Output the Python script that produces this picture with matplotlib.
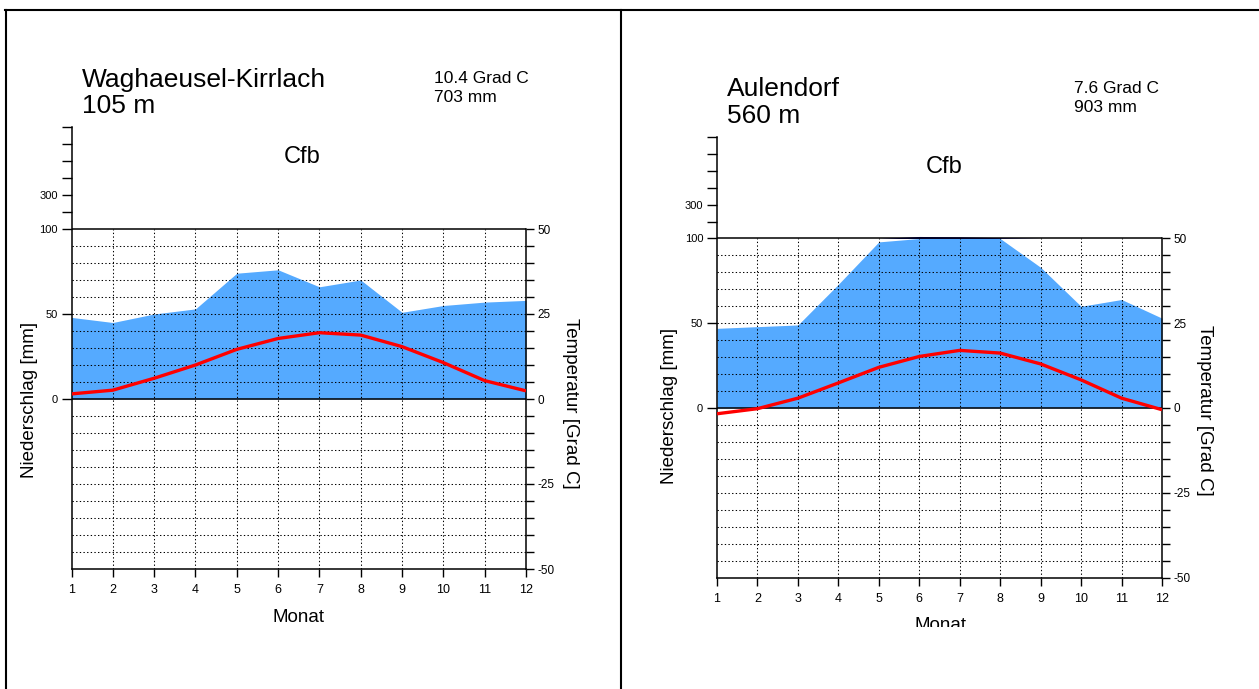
import numpy as np
import matplotlib
matplotlib.use("Agg")
import matplotlib.pyplot as plt
from matplotlib.lines import Line2D
from matplotlib.patches import Rectangle

plt.rcParams['font.family'] = ['Liberation Sans', 'DejaVu Sans']

W, H = 1259, 689

months = np.arange(1, 13)
month_labels = [str(m) for m in months]

# Station 1: Waghaeusel-Kirrlach
st1_name = "Waghaeusel-Kirrlach"
st1_height = "105 m"
st1_temp_text = "10.4 Grad C"
st1_prec_text = "703 mm"
st1_climate = "Cfb"
st1_prec = [48, 45, 50, 53, 74, 76, 66, 70, 51, 55, 57, 58]
st1_temp = [1.5, 2.6, 6.1, 10.0, 14.6, 17.8, 19.5, 18.8, 15.4, 10.7, 5.4, 2.4]

# Station 2: Aulendorf
st2_name = "Aulendorf"
st2_height = "560 m"
st2_temp_text = "7.6 Grad C"
st2_prec_text = "903 mm"
st2_climate = "Cfb"
st2_prec = [47, 48, 49, 73, 98, 112, 110, 105, 83, 60, 64, 53]
st2_temp = [-1.7, -0.2, 2.9, 7.4, 12.0, 15.2, 17.0, 16.2, 13.0, 8.3, 2.9, -0.5]

BLUE = '#55AAFF'
DARKBLUE = '#0000AA'
RED = '#FF0000'
DOT = (0, (1.3, 2.2))

fig = plt.figure(figsize=(W / 100, H / 100), dpi=100)


def fx(x):
    return x / W


def fy(y):
    return 1 - y / H


def panel(x_left, x_right, y100, ym100, prec, temp):
    per_mm = (ym100 - y100) / 200.0
    y_top = y100 - 60 * per_mm
    ax = fig.add_axes([fx(x_left), fy(ym100), (x_right - x_left) / W, (ym100 - y_top) / H])
    ax.set_xlim(1, 12)
    ax.set_ylim(-100, 160)
    ax.patch.set_visible(False)
    prec = np.asarray(prec, dtype=float)
    # precipitation fill
    ax.fill_between(months, 0, np.minimum(prec, 100), color=BLUE, lw=0, zorder=1)
    over = 100 + (np.maximum(prec, 100) - 100) * 0.1
    ax.fill_between(months, 100, over, where=prec > 100, interpolate=True,
                    color=DARKBLUE, lw=0, zorder=1)
    # grid
    for m in months[1:-1]:
        ax.plot([m, m], [-100, 100], color='black', lw=0.75, ls=DOT, zorder=2)
    for v in range(-90, 100, 10):
        if v == 0:
            continue
        ax.plot([1, 12], [v, v], color='black', lw=0.75, ls=DOT, zorder=2)
    ax.plot([1, 12], [100, 100], color='black', lw=1.1, zorder=3)
    ax.plot([1, 12], [0, 0], color='black', lw=1.1, zorder=3)
    for s in ['top', 'right']:
        ax.spines[s].set_visible(False)
    ax.spines['left'].set_bounds(-100, 160)
    ax.spines['left'].set_linewidth(1.1)
    ax.spines['bottom'].set_linewidth(1.1)
    ax.set_yticks([0, 50, 100, 110, 120, 130, 140, 150, 160],
                  ['0', '50', '100', '', '300', '', '', '', ''])
    ax.tick_params(axis='y', direction='out', length=7, width=1, labelsize=8, pad=3)
    ax.set_xticks(months, month_labels)
    ax.tick_params(axis='x', direction='out', length=6, width=1, labelsize=9, pad=5)

    ax2 = ax.twinx()
    ax2.set_ylim(-50, 80)
    for s in ['top', 'left', 'bottom']:
        ax2.spines[s].set_visible(False)
    ax2.spines['right'].set_bounds(-50, 50)
    ax2.spines['right'].set_linewidth(1.1)
    tt = list(range(-50, 51, 5))
    ax2.set_yticks(tt, [str(t) if t % 25 == 0 else '' for t in tt])
    ax2.tick_params(axis='y', direction='out', length=6, width=1, labelsize=8.5, pad=2)
    ax2.plot(months, temp, color=RED, lw=2.4, zorder=5, solid_capstyle='butt')
    return ax, ax2


# Left panel
panel(71.5, 526, 229, 569, st1_prec, st1_temp)
fig.text(fx(81.5), fy(86.7), st1_name, fontsize=19, va='baseline', ha='left')
fig.text(fx(81.5), fy(112.7), st1_height, fontsize=19, va='baseline', ha='left')
fig.text(fx(434), fy(83.3), st1_temp_text, fontsize=12.5, va='baseline', ha='left')
fig.text(fx(434), fy(101.7), st1_prec_text, fontsize=12.5, va='baseline', ha='left')
fig.text(fx(302), fy(163.3), st1_climate, fontsize=17, va='baseline', ha='center')
fig.text(fx(30), fy(400), "Niederschlag [mm]", fontsize=13.5, rotation=90, va='center', ha='center')
fig.text(fx(571), fy(403), "Temperatur [Grad C]", fontsize=13.5, rotation=270, va='center', ha='center')
fig.text(fx(298.6), fy(621.7), "Monat", fontsize=13.5, va='baseline', ha='center')

# Right panel
panel(717, 1162, 238.5, 577.5, st2_prec, st2_temp)
fig.text(fx(727), fy(96), st2_name, fontsize=19, va='baseline', ha='left')
fig.text(fx(727), fy(122.7), st2_height, fontsize=19, va='baseline', ha='left')
fig.text(fx(1074), fy(93.3), st2_temp_text, fontsize=12.5, va='baseline', ha='left')
fig.text(fx(1074), fy(111.7), st2_prec_text, fontsize=12.5, va='baseline', ha='left')
fig.text(fx(944.6), fy(173.3), st2_climate, fontsize=17, va='baseline', ha='center')
fig.text(fx(669), fy(406), "Niederschlag [mm]", fontsize=13.5, rotation=90, va='center', ha='center')
fig.text(fx(1205), fy(410), "Temperatur [Grad C]", fontsize=13.5, rotation=270, va='center', ha='center')
fig.text(fx(940), fy(630), "Monat", fontsize=13.5, va='baseline', ha='center')

# clip of right panel bottom
fig.add_artist(Rectangle((fx(623), 0), 1 - fx(623), fy(627), transform=fig.transFigure,
                         facecolor='white', edgecolor='none', zorder=20))

# frame lines
fig.add_artist(Line2D([fx(5), 1], [fy(10), fy(10)], transform=fig.transFigure,
                      color='black', lw=1.5, zorder=30))
fig.add_artist(Line2D([fx(6), fx(6)], [fy(10), 0], transform=fig.transFigure,
                      color='black', lw=1.5, zorder=30))
fig.add_artist(Line2D([fx(621), fx(621)], [fy(10), 0], transform=fig.transFigure,
                      color='black', lw=1.5, zorder=30))

fig.savefig("out.png", dpi=100)
